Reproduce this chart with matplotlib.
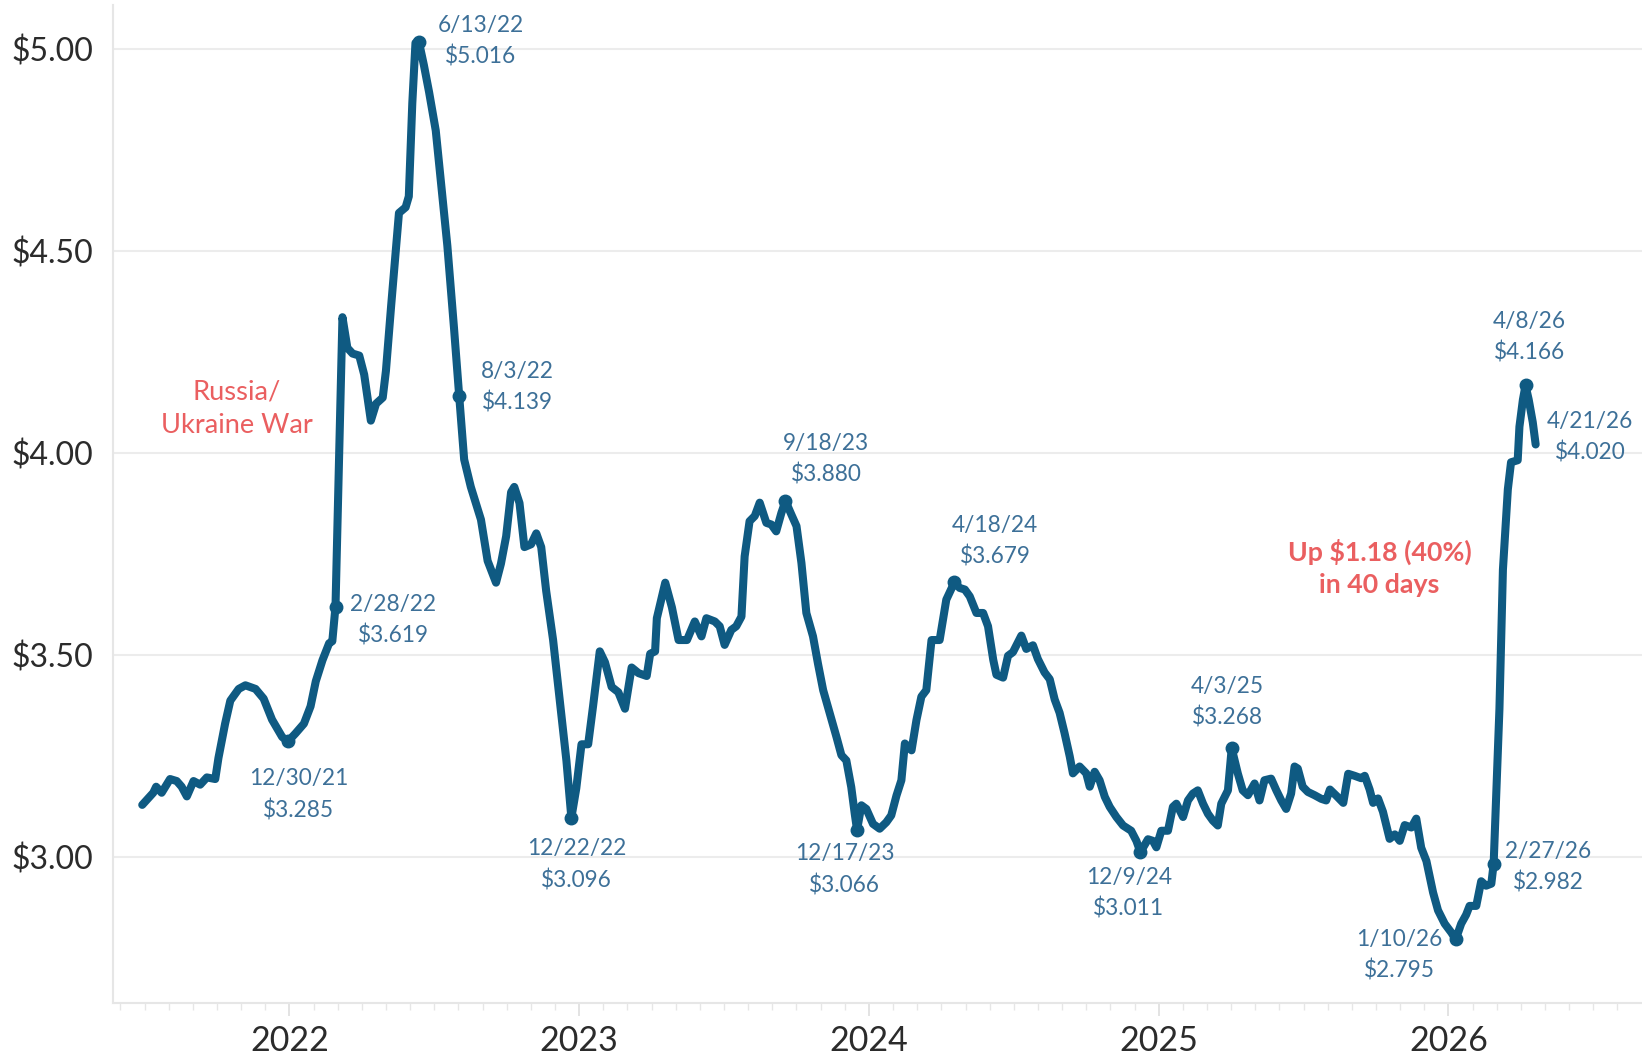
import matplotlib
matplotlib.use("Agg")
import matplotlib.pyplot as plt
from matplotlib.ticker import FuncFormatter

plt.rcParams['font.family'] = ['Lato', 'DejaVu Sans']

# ---- data (decimal year, average gas price $/gal) ----
years = [
    2021.492, 2021.530, 2021.540, 2021.559, 2021.588, 2021.611, 2021.628, 2021.646,
    2021.669, 2021.692, 2021.715, 2021.744, 2021.755, 2021.778, 2021.796, 2021.825,
    2021.848, 2021.883, 2021.911, 2021.940, 2021.975, 2021.995, 2022.021, 2022.050,
    2022.073, 2022.091, 2022.114, 2022.137, 2022.148, 2022.159, 2022.183, 2022.200,
    2022.218, 2022.241, 2022.258, 2022.281, 2022.299, 2022.322, 2022.333, 2022.351,
    2022.368, 2022.378, 2022.401, 2022.412, 2022.424, 2022.435, 2022.447, 2022.464,
    2022.482, 2022.505, 2022.522, 2022.545, 2022.568, 2022.586, 2022.603, 2022.626,
    2022.661, 2022.684, 2022.713, 2022.730, 2022.748, 2022.765, 2022.776, 2022.794,
    2022.811, 2022.834, 2022.852, 2022.869, 2022.886, 2022.910, 2022.933, 2022.956,
    2022.973, 2022.990, 2023.008, 2023.031, 2023.048, 2023.071, 2023.089, 2023.112,
    2023.135, 2023.158, 2023.181, 2023.205, 2023.233, 2023.245, 2023.262, 2023.268,
    2023.297, 2023.320, 2023.343, 2023.372, 2023.399, 2023.422, 2023.439, 2023.468,
    2023.485, 2023.502, 2023.525, 2023.542, 2023.560, 2023.571, 2023.588, 2023.606,
    2023.623, 2023.646, 2023.663, 2023.680, 2023.698, 2023.712, 2023.732, 2023.750,
    2023.767, 2023.784, 2023.807, 2023.824, 2023.842, 2023.865, 2023.888, 2023.905,
    2023.922, 2023.939, 2023.951, 2023.959, 2023.974, 2023.991, 2024.014, 2024.037,
    2024.060, 2024.077, 2024.095, 2024.112, 2024.124, 2024.147, 2024.164, 2024.181,
    2024.198, 2024.216, 2024.244, 2024.267, 2024.295, 2024.313, 2024.331, 2024.348,
    2024.371, 2024.394, 2024.411, 2024.429, 2024.440, 2024.463, 2024.480, 2024.497,
    2024.509, 2024.526, 2024.543, 2024.566, 2024.583, 2024.606, 2024.624, 2024.641,
    2024.658, 2024.675, 2024.693, 2024.704, 2024.727, 2024.750, 2024.762, 2024.779,
    2024.796, 2024.814, 2024.831, 2024.854, 2024.877, 2024.905, 2024.923, 2024.937,
    2024.963, 2024.980, 2024.992, 2025.009, 2025.032, 2025.049, 2025.061, 2025.084,
    2025.101, 2025.118, 2025.135, 2025.153, 2025.170, 2025.187, 2025.204, 2025.216,
    2025.239, 2025.252, 2025.273, 2025.290, 2025.308, 2025.331, 2025.348, 2025.365,
    2025.388, 2025.406, 2025.423, 2025.440, 2025.457, 2025.469, 2025.480, 2025.497,
    2025.515, 2025.538, 2025.561, 2025.578, 2025.591, 2025.614, 2025.637, 2025.654,
    2025.676, 2025.699, 2025.711, 2025.728, 2025.740, 2025.757, 2025.774, 2025.797,
    2025.815, 2025.832, 2025.849, 2025.872, 2025.889, 2025.906, 2025.924, 2025.947,
    2025.964, 2025.987, 2026.010, 2026.025, 2026.044, 2026.061, 2026.073, 2026.096,
    2026.113, 2026.130, 2026.148, 2026.156, 2026.176, 2026.188, 2026.205, 2026.216,
    2026.239, 2026.245, 2026.257, 2026.266, 2026.277, 2026.291, 2026.301,
]
prices = [
    3.128, 3.158, 3.173, 3.158, 3.192, 3.187, 3.173, 3.149,
    3.187, 3.178, 3.196, 3.192, 3.244, 3.329, 3.386, 3.415,
    3.424, 3.415, 3.391, 3.339, 3.296, 3.285, 3.305, 3.329,
    3.372, 3.434, 3.486, 3.528, 3.533, 3.619, 4.335, 4.259,
    4.245, 4.240, 4.193, 4.079, 4.121, 4.136, 4.202, 4.363,
    4.506, 4.593, 4.607, 4.634, 4.864, 5.014, 5.016, 4.959,
    4.892, 4.797, 4.675, 4.512, 4.308, 4.139, 3.983, 3.915,
    3.834, 3.732, 3.678, 3.725, 3.793, 3.902, 3.915, 3.875,
    3.766, 3.773, 3.800, 3.766, 3.658, 3.536, 3.386, 3.237,
    3.096, 3.169, 3.278, 3.278, 3.373, 3.508, 3.481, 3.420,
    3.407, 3.366, 3.468, 3.454, 3.447, 3.502, 3.508, 3.590,
    3.678, 3.617, 3.536, 3.536, 3.582, 3.545, 3.590, 3.582,
    3.570, 3.524, 3.561, 3.570, 3.594, 3.743, 3.830, 3.843,
    3.876, 3.826, 3.822, 3.805, 3.851, 3.880, 3.847, 3.818,
    3.727, 3.603, 3.545, 3.478, 3.412, 3.354, 3.296, 3.251,
    3.238, 3.172, 3.106, 3.066, 3.127, 3.118, 3.081, 3.069,
    3.085, 3.102, 3.151, 3.189, 3.280, 3.263, 3.338, 3.396,
    3.412, 3.536, 3.536, 3.636, 3.679, 3.665, 3.661, 3.644,
    3.603, 3.603, 3.570, 3.487, 3.450, 3.443, 3.497, 3.506,
    3.523, 3.547, 3.514, 3.523, 3.489, 3.456, 3.439, 3.389,
    3.356, 3.306, 3.248, 3.206, 3.223, 3.206, 3.173, 3.210,
    3.189, 3.148, 3.123, 3.098, 3.077, 3.064, 3.039, 3.011,
    3.043, 3.039, 3.023, 3.064, 3.064, 3.123, 3.131, 3.098,
    3.139, 3.156, 3.164, 3.131, 3.106, 3.089, 3.077, 3.131,
    3.164, 3.268, 3.206, 3.164, 3.152, 3.181, 3.139, 3.189,
    3.193, 3.164, 3.139, 3.118, 3.156, 3.223, 3.218, 3.173,
    3.160, 3.152, 3.143, 3.139, 3.166, 3.150, 3.133, 3.205,
    3.200, 3.194, 3.200, 3.166, 3.133, 3.144, 3.111, 3.044,
    3.055, 3.039, 3.078, 3.072, 3.094, 3.022, 2.989, 2.911,
    2.867, 2.834, 2.812, 2.795, 2.834, 2.856, 2.878, 2.878,
    2.939, 2.928, 2.933, 2.982, 3.366, 3.710, 3.909, 3.976,
    3.981, 4.064, 4.131, 4.166, 4.131, 4.075, 4.020,
]

# annotated points
ann_labels = ['12/30/21', '2/28/22', '6/13/22', '8/3/22', '12/22/22', '9/18/23', '12/17/23',
              '4/18/24', '12/9/24', '4/3/25', '1/10/26', '2/27/26', '4/8/26', '4/21/26']
ann_years = [2021.995, 2022.159, 2022.447, 2022.586, 2022.973, 2023.712, 2023.959,
             2024.295, 2024.937, 2025.252, 2026.025, 2026.156, 2026.266, 2026.301]
ann_prices = [3.285, 3.619, 5.016, 4.139, 3.096, 3.880, 3.066,
              3.679, 3.011, 3.268, 2.795, 2.982, 4.166, 4.020]
ann_marked = [True] * 13 + [False]

year_ticks = [2022, 2023, 2024, 2025, 2026]
year_labels = ['2022', '2023', '2024', '2025', '2026']
y_ticks = [3.0, 3.5, 4.0, 4.5, 5.0]

# ---- styling ----
LINE = '#0f5a82'
ANN = '#3d7098'
RED = '#ea5f60'
GRID = '#ececec'

# text offsets in points (dx, dy) for each annotation
offsets = [(7.5, -38.5), (41.5, -9.8), (44.5, 0.7), (42.2, 6.8), (3.8, -33.9), (29.4, 30.2),
           (-9.0, -28.7), (29.4, 29.4), (-8.3, -29.4), (-3.0, 33.2), (-40.7, -11.3),
           (39.2, -2.3), (3.0, 34.7), (39.2, 5.3)]

fig = plt.figure(figsize=(16.42, 10.57), dpi=100)
ax = fig.add_axes([0.0688, 0.0514, 0.9312, 0.9436])

ax.plot(years, prices, color=LINE, lw=5.8, solid_joinstyle='round', solid_capstyle='round', zorder=3)
mx = [x for x, m in zip(ann_years, ann_marked) if m]
my = [y for y, m in zip(ann_prices, ann_marked) if m]
ax.plot(mx, my, 'o', color=LINE, ms=9, zorder=4)

for lab, x, y, (dx, dy) in zip(ann_labels, ann_years, ann_prices, offsets):
    ax.annotate(f"{lab}\n${y:.3f}", xy=(x, y), xytext=(dx, dy), textcoords='offset points',
                ha='center', va='center', fontsize=16.3, color=ANN, linespacing=1.55, zorder=5)

ax.text(2021.819, 4.109, "Russia/\nUkraine War", ha='center', va='center', fontsize=19.6,
        color=RED, linespacing=1.4)
ax.text(2025.762, 3.715, "Up $1.18 (40%)\nin 40 days", ha='center', va='center', fontsize=19.3,
        color=RED, fontweight='bold', linespacing=1.4)

ax.set_xlim(2021.391, 2026.668)
ax.set_ylim(2.6385, 5.107)

ax.set_yticks(y_ticks)
ax.yaxis.set_major_formatter(FuncFormatter(lambda v, p: f"${v:.2f}"))
ax.set_xticks(year_ticks)
ax.set_xticklabels(year_labels)
minor = [yr + m / 12 for yr in range(2021, 2027) for m in range(12)
         if 2021.40 < yr + m / 12 < 2026.66 and m != 0]
ax.set_xticks(minor, minor=True)

ax.grid(axis='y', color=GRID, lw=1.5)
ax.set_axisbelow(True)
for s in ['top', 'right']:
    ax.spines[s].set_visible(False)
for s in ['left', 'bottom']:
    ax.spines[s].set_color('#e6e6e6')
    ax.spines[s].set_linewidth(1.5)

ax.tick_params(axis='y', length=0, pad=14, labelsize=23, labelcolor='#2b2b2b')
ax.tick_params(axis='x', which='major', length=9, width=1.2, color='#dedede', pad=7,
               labelsize=24.5, labelcolor='#2b2b2b')
ax.tick_params(axis='x', which='minor', length=5, width=1.0, color='#e6e6e6')

fig.savefig('out.png', dpi=100)
